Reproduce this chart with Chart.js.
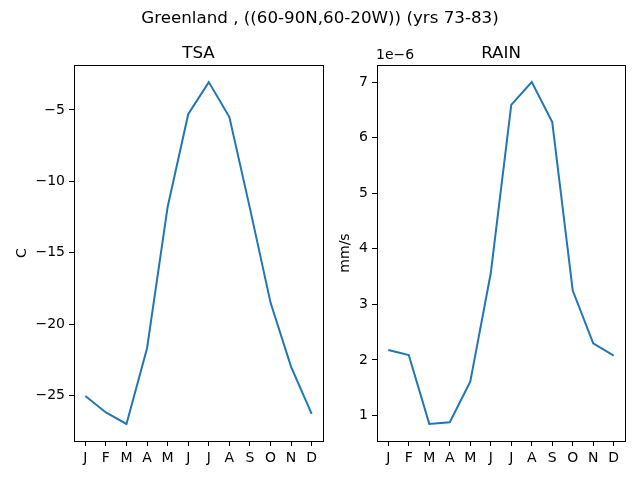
<!DOCTYPE html>
<html>
<head>
<meta charset="utf-8">
<script src="https://cdn.jsdelivr.net/npm/chart.js@4"></script>
<style>
  body { margin: 0; background: #fff; }
  #wrap { position: relative; width: 640px; height: 480px; }
  #wrap canvas { position: absolute; left: 0; top: 0; }
  #suptitle {
    position: absolute; left: 0; top: 7px; width: 640px; text-align: center;
    font-family: "DejaVu Sans"; font-size: 16.7px; color: #000;
  }
</style>
</head>
<body>
<div id="wrap">
  <canvas id="tsaChart" width="640" height="480"></canvas>
  <canvas id="rainChart" width="640" height="480"></canvas>
  <div id="suptitle">Greenland , ((60-90N,60-20W)) (yrs 73-83)</div>
</div>
<script>
const months = ['J', 'F', 'M', 'A', 'M', 'J', 'J', 'A', 'S', 'O', 'N', 'D'];
const tsa = [-25.05, -26.2, -27.0, -21.7, -11.8, -5.3, -3.05, -5.5, -11.9, -18.5, -23.0, -26.3];
const rain = [2.18e-6, 2.09e-6, 0.85e-6, 0.88e-6, 1.61e-6, 3.56e-6, 6.59e-6, 7.0e-6, 6.28e-6, 3.25e-6, 2.30e-6, 2.08e-6];

const FONT = 'DejaVu Sans';
const BLUE = '#1f77b4';

// matplotlib-style frame, subplot title and offset text
const framePlugin = {
    id: 'frame',
    afterDraw(chart) {
        const a = chart.chartArea;
        const ctx = chart.ctx;
        const opts = chart.options.plugins.frame || {};
        ctx.save();
        ctx.strokeStyle = '#000';
        ctx.lineWidth = 1;
        ctx.strokeRect(Math.round(a.left) + 0.5, Math.round(a.top) + 0.5,
                       Math.round(a.right - a.left), Math.round(a.bottom - a.top));
        ctx.fillStyle = '#000';
        if (opts.title) {
            ctx.font = '16.7px "' + FONT + '"';
            ctx.textAlign = 'center';
            ctx.textBaseline = 'alphabetic';
            ctx.fillText(opts.title, (a.left + a.right) / 2, a.top - 7);
        }
        if (opts.offsetText) {
            ctx.font = '14px "' + FONT + '"';
            ctx.textAlign = 'left';
            ctx.textBaseline = 'bottom';
            ctx.fillText(opts.offsetText, a.left - 1, a.top - 3);
        }
        ctx.restore();
    }
};

function minus(s) {
    return String(s).replace('-', '\u2212');
}

function makeChart(id, title, yLabel, values, pad, yWidth, yStep, yFmt, offsetText) {
    const lo = Math.min(...values), hi = Math.max(...values);
    const m = (hi - lo) * 0.05;
    const points = values.map((v, i) => ({x: i, y: v}));

    return new Chart(document.getElementById(id).getContext('2d'), {
        type: 'line',
        data: {
            datasets: [{
                data: points,
                borderColor: BLUE,
                borderWidth: 2,
                pointRadius: 0,
                tension: 0,
                fill: false
            }]
        },
        options: {
            responsive: false,
            animation: false,
            layout: { padding: pad },
            plugins: {
                legend: { display: false },
                tooltip: { enabled: false },
                title: { display: false },
                frame: { title: title, offsetText: offsetText }
            },
            scales: {
                x: {
                    type: 'linear',
                    min: -0.55,
                    max: 11.55,
                    afterFit(s) { s.height = 39; },
                    grid: { display: true, drawOnChartArea: false, drawTicks: true, tickLength: 5, color: '#000' },
                    border: { display: true, color: '#000' },
                    ticks: {
                        stepSize: 1,
                        includeBounds: false,
                        autoSkip: false,
                        maxRotation: 0,
                        padding: 4,
                        color: '#000',
                        font: { family: FONT, size: 14 },
                        callback: (v) => Number.isInteger(v) && months[v] ? months[v] : ''
                    }
                },
                y: {
                    type: 'linear',
                    min: lo - m,
                    max: hi + m,
                    afterFit(s) { s.width = yWidth; },
                    grid: { display: true, drawOnChartArea: false, drawTicks: true, tickLength: 5, color: '#000' },
                    border: { display: true, color: '#000' },
                    title: {
                        display: true,
                        text: yLabel,
                        color: '#000',
                        font: { family: FONT, size: 14 },
                        padding: { top: 0, bottom: 0 }
                    },
                    ticks: {
                        stepSize: yStep,
                        includeBounds: false,
                        padding: 4,
                        color: '#000',
                        font: { family: FONT, size: 14 },
                        callback: yFmt
                    }
                }
            }
        },
        plugins: [framePlugin]
    });
}

makeChart('tsaChart', 'TSA', 'C', tsa,
    { left: 14, right: 317, top: 65, bottom: 0 }, 60, 5,
    (v) => minus(v), null);

makeChart('rainChart', 'RAIN', 'mm/s', rain,
    { left: 337, right: 15, top: 65, bottom: 0 }, 40, 1e-6,
    (v) => String(Math.round(v * 1e6)), '1e\u22126');
</script>
</body>
</html>
